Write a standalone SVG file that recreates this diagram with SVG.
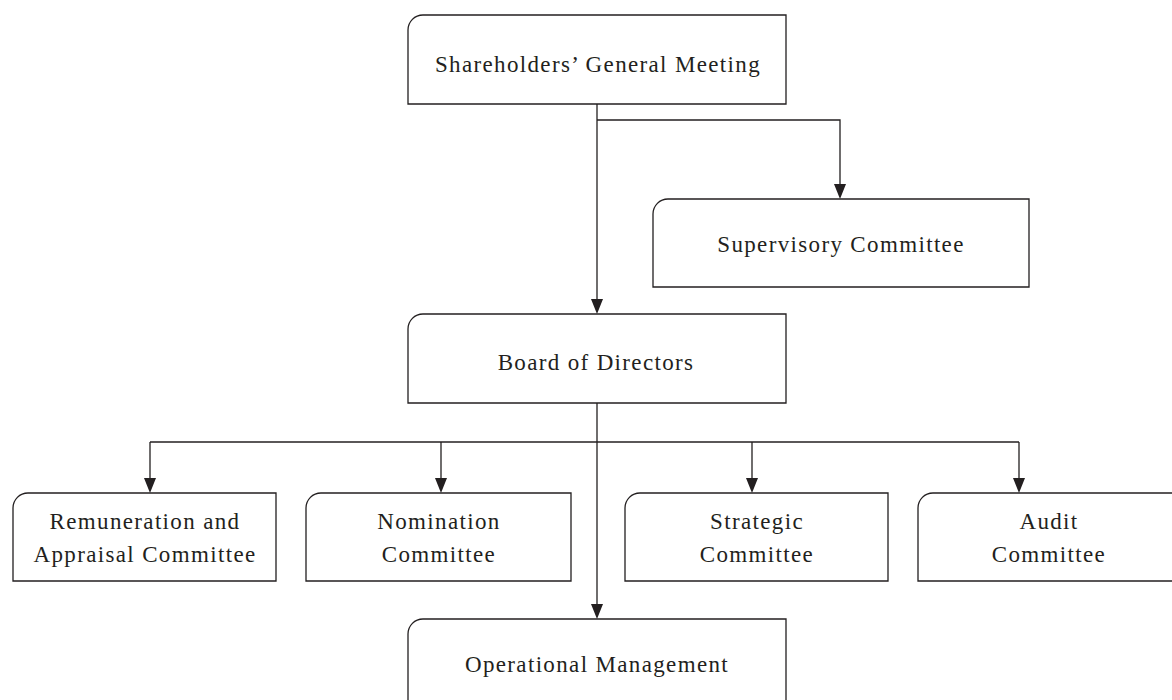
<svg xmlns="http://www.w3.org/2000/svg" width="1172" height="700" viewBox="0 0 1172 700">
<style>
.box{fill:#fff;stroke:#231f20;stroke-width:1.3}
.lbl{font-family:"Liberation Serif","Times New Roman",serif;font-size:23px;letter-spacing:1.35px;fill:#231f20;text-anchor:middle}
.con{fill:none;stroke:#231f20;stroke-width:1.3}
.ah{fill:#231f20}
</style>
<rect width="1172" height="700" fill="#fff"/>
<g id="connectors">
<path class="con" d="M597,104 V302"/>
<path class="con" d="M597,120 H840 V186"/>
<path class="con" d="M597,403 V606"/>
<path class="con" d="M150,442 H1019"/>
<path class="con" d="M150,442 V480"/>
<path class="con" d="M441,442 V480"/>
<path class="con" d="M752,442 V480"/>
<path class="con" d="M1019,442 V480"/>
<path class="ah" d="M591,299 L603,299 L597,314 Z"/>
<path class="ah" d="M834,184 L846,184 L840,199 Z"/>
<path class="ah" d="M591,604 L603,604 L597,619 Z"/>
<path class="ah" d="M144,478 L156,478 L150,493 Z"/>
<path class="ah" d="M435,478 L447,478 L441,493 Z"/>
<path class="ah" d="M746,478 L758,478 L752,493 Z"/>
<path class="ah" d="M1013,478 L1025,478 L1019,493 Z"/>
</g>
<g id="shareholders">
<path class="box" d="M408,104 V30 A15,15 0 0 1 423,15 H786 V104 Z"/>
<text class="lbl" x="598" y="72">Shareholders’ General Meeting</text>
</g>
<g id="supervisory">
<path class="box" d="M653,287 V214 A15,15 0 0 1 668,199 H1029 V287 Z"/>
<text class="lbl" x="841" y="252">Supervisory Committee</text>
</g>
<g id="board">
<path class="box" d="M408,403 V329 A15,15 0 0 1 423,314 H786 V403 Z"/>
<text class="lbl" x="596" y="370">Board of Directors</text>
</g>
<g id="remuneration">
<path class="box" d="M13,581 V508 A15,15 0 0 1 28,493 H276 V581 Z"/>
<text class="lbl" x="145" y="529">Remuneration and</text>
<text class="lbl" x="145" y="562">Appraisal Committee</text>
</g>
<g id="nomination">
<path class="box" d="M306,581 V508 A15,15 0 0 1 321,493 H571 V581 Z"/>
<text class="lbl" x="439" y="529">Nomination</text>
<text class="lbl" x="439" y="562">Committee</text>
</g>
<g id="strategic">
<path class="box" d="M625,581 V508 A15,15 0 0 1 640,493 H888 V581 Z"/>
<text class="lbl" x="757" y="529">Strategic</text>
<text class="lbl" x="757" y="562">Committee</text>
</g>
<g id="audit">
<path class="box" d="M918,581 V508 A15,15 0 0 1 933,493 H1180 V581 Z"/>
<text class="lbl" x="1049" y="529">Audit</text>
<text class="lbl" x="1049" y="562">Committee</text>
</g>
<g id="operational">
<path class="box" d="M408,710 V634 A15,15 0 0 1 423,619 H786 V710"/>
<text class="lbl" x="597" y="672">Operational Management</text>
</g>
</svg>
